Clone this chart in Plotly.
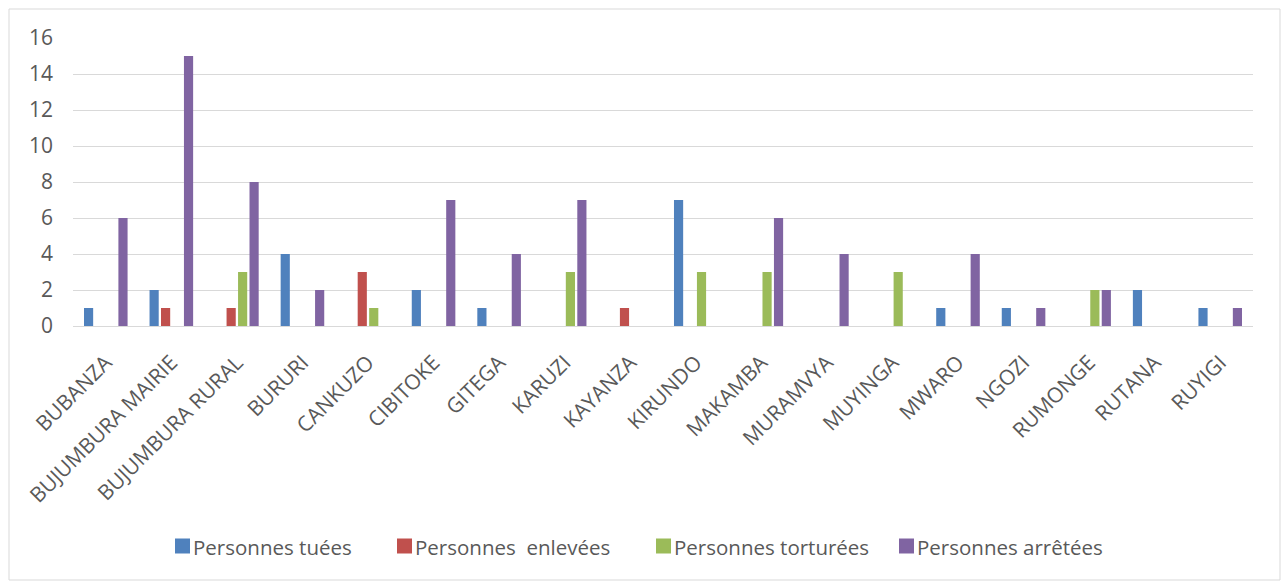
import plotly.graph_objects as go

categories = ["BUBANZA", "BUJUMBURA MAIRIE", "BUJUMBURA RURAL", "BURURI", "CANKUZO",
              "CIBITOKE", "GITEGA", "KARUZI", "KAYANZA", "KIRUNDO", "MAKAMBA",
              "MURAMVYA", "MUYINGA", "MWARO", "NGOZI", "RUMONGE", "RUTANA", "RUYIGI"]
tuees = [1, 2, 0, 4, 0, 2, 1, 0, 0, 7, 0, 0, 0, 1, 1, 0, 2, 1]
enlevees = [0, 1, 1, 0, 3, 0, 0, 0, 1, 0, 0, 0, 0, 0, 0, 0, 0, 0]
torturees = [0, 0, 3, 0, 1, 0, 0, 3, 0, 3, 3, 0, 3, 0, 0, 2, 0, 0]
arretees = [6, 15, 8, 2, 0, 7, 4, 7, 0, 0, 6, 4, 0, 4, 1, 2, 0, 1]
y_ticks = [0, 2, 4, 6, 8, 10, 12, 14, 16]

series_names = ["Personnes tuées", "Personnes \u00a0enlevées", "Personnes torturées", "Personnes arrêtées"]
series_values = [tuees, enlevees, torturees, arretees]
colors = ["#4f81bd", "#c0504d", "#9bbb59", "#8064a2"]

fig = go.Figure()
for name, vals, col in zip(series_names, series_values, colors):
    fig.add_trace(go.Bar(x=categories, y=vals, name=name, marker_color=col,
                         marker_line_width=0, showlegend=False))

W, H = 1282, 581
ml, mr, mt, mb = 73, 29, 38, 255
pw = W - ml - mr
ph = H - mt - mb


def px_x(x):
    return (x - ml) / pw


def px_y(y):
    return (H - mb - y) / ph


font = "Open Sans"
grey = "#595959"

# custom legend (square + label), pixel placement matched to reference
legend_square_x = [175, 397, 656, 899]
legend_y = 546
sq = 15
shapes = [dict(type="rect", xref="paper", yref="paper",
               x0=px_x(9), x1=px_x(1280), y0=px_y(580), y1=px_y(9),
               line=dict(color="#d9d9d9", width=1), fillcolor="rgba(0,0,0,0)",
               layer="below")]
annotations = []
for name, col, sx in zip(series_names, colors, legend_square_x):
    shapes.append(dict(type="rect", xref="paper", yref="paper",
                       x0=px_x(sx), x1=px_x(sx + sq),
                       y0=px_y(legend_y + sq / 2), y1=px_y(legend_y - sq / 2),
                       line=dict(width=0), fillcolor=col))
    annotations.append(dict(text=name, xref="paper", yref="paper",
                            x=px_x(sx + sq + 1), y=px_y(legend_y + 1),
                            xanchor="left", yanchor="middle", showarrow=False,
                            font=dict(family=font, size=20.5, color=grey)))

fig.update_layout(
    width=W, height=H,
    margin=dict(l=ml, r=mr, t=mt, b=mb),
    paper_bgcolor="white", plot_bgcolor="white",
    barmode="group", bargap=0.30, bargroupgap=0.2,
    font=dict(family=font, color=grey, size=20),
    showlegend=False,
    xaxis=dict(tickangle=-45, tickfont=dict(family=font, size=21, color=grey),
               showline=True, linecolor="#d9d9d9", linewidth=1, ticks="",
               showgrid=False, ticklabelstandoff=15),
    yaxis=dict(range=[0, 16], tickvals=y_ticks, tickfont=dict(family=font, size=21, color=grey),
               showgrid=True, gridcolor="#d9d9d9", gridwidth=1, zeroline=False,
               showline=False, ticklabelstandoff=19),
    shapes=shapes,
    annotations=annotations,
)

fig.write_html("out.html")
